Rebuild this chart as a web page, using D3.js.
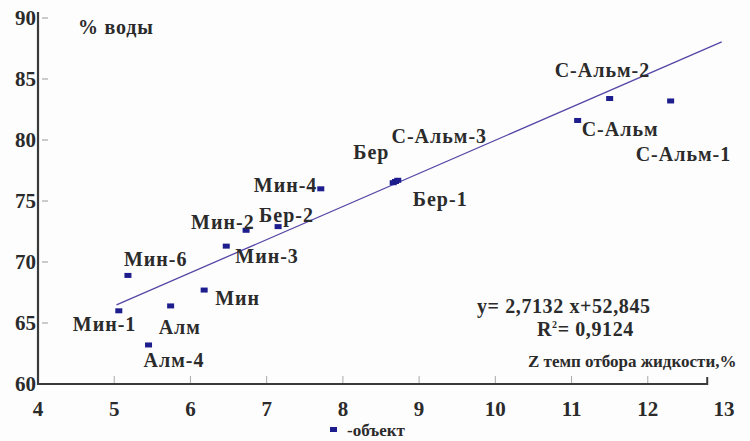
<!DOCTYPE html>
<html>
<head>
<meta charset="utf-8">
<script src="https://cdn.jsdelivr.net/npm/d3@7"></script>
<style>
  html, body { margin: 0; padding: 0; background: #fdfdfd; }
  svg { display: block; }
</style>
</head>
<body>
<svg id="chart" width="750" height="441"></svg>
<script>
// ---- data ----
const names = ["Мин-1","Мин-6","Алм-4","Алм","Мин","Мин-3","Мин-2","Бер-2","Мин-4","Бер","С-Альм-3","Бер-1","С-Альм","С-Альм-2","С-Альм-1"];
const zRate = [5.06, 5.18, 5.45, 5.74, 6.18, 6.47, 6.73, 7.15, 7.71, 8.66, 8.69, 8.72, 11.08, 11.5, 12.3];
const water = [66.0, 68.9, 63.2, 66.4, 67.7, 71.3, 72.6, 72.9, 76.0, 76.5, 76.6, 76.7, 81.6, 83.4, 83.2];
const xTicks = [4,5,6,7,8,9,10,11,12,13];
const yTicks = [60,65,70,75,80,85,90];
const slope = 2.7132, intercept = 52.845, r2 = "0,9124";
const trendRange = [5.03, 12.97];

// label layout offsets (px) relative to each point
const labelOffsets = [[-46,20],[-4,-9],[-5,22],[-12,28],[11,15],[9,17],[-55,-1],[-19,-5],[-67,3],[-40,-24],[-4,-38],[15,26],[4,16],[-55,-22],[-35,60]];

// ---- chart ----
const FONT = "'Liberation Serif', 'DejaVu Serif', serif";
const svg = d3.select("#chart");
const x = d3.scaleLinear().domain([4, 13]).range([38, 724]);
const y = d3.scaleLinear().domain([60, 90]).range([384, 18]);
const axisColor = "#3a3a3a";

function txt(sel) {
  return sel.attr("font-family", FONT).style("font-family", FONT)
    .attr("font-weight", "bold").attr("fill", "#2b2b2b");
}

// x ticks (inside, upward)
const gx = svg.append("g").attr("transform", "translate(0,384)");
gx.selectAll("line.tick").data(xTicks.slice(1, -1)).enter().append("line")
  .attr("x1", d => x(d)).attr("x2", d => x(d)).attr("y1", 0).attr("y2", -8)
  .attr("stroke", "#aaa").attr("stroke-width", 1);
txt(gx.selectAll("text").data(xTicks).enter().append("text"))
  .attr("x", d => x(d)).attr("y", 32).attr("text-anchor", "middle")
  .attr("font-size", 21).text(d => d);
// x axis line
const xEnd = x(12.78);
gx.append("path").attr("d", `M${x(4)},0H${xEnd}V-7`).attr("fill", "none")
  .attr("stroke", axisColor).attr("stroke-width", 2);

// y ticks
const gy = svg.append("g");
gy.selectAll("line").data(yTicks.slice(1)).enter().append("line")
  .attr("x1", x(4) + 4).attr("x2", x(4) + 10).attr("y1", d => y(d)).attr("y2", d => y(d))
  .attr("stroke", "#999").attr("stroke-width", 1);
txt(gy.selectAll("text").data(yTicks).enter().append("text"))
  .attr("x", x(4) - 2).attr("y", d => y(d) + 7).attr("text-anchor", "end")
  .attr("font-size", 21).text(d => d);
gy.append("line").attr("x1", x(4)).attr("x2", x(4)).attr("y1", 12).attr("y2", 385)
  .attr("stroke", axisColor).attr("stroke-width", 2.2);

// trend line
svg.append("line")
  .attr("x1", x(trendRange[0])).attr("y1", y(slope * trendRange[0] + intercept))
  .attr("x2", x(trendRange[1])).attr("y2", y(slope * trendRange[1] + intercept))
  .attr("stroke", "#5446a6").attr("stroke-width", 1.3);

// points
const pts = names.map((n, i) => ({ n, x: zRate[i], y: water[i], off: labelOffsets[i] }));
svg.selectAll("rect.pt").data(pts).enter().append("rect").attr("class", "pt")
  .attr("x", d => x(d.x) - 3.5).attr("y", d => y(d.y) - 2.5)
  .attr("width", 7).attr("height", 5).attr("fill", "#1d1d8e");

txt(svg.selectAll("text.lbl").data(pts).enter().append("text").attr("class", "lbl"))
  .attr("x", d => x(d.x) + d.off[0]).attr("y", d => y(d.y) + d.off[1])
  .attr("font-size", 20).attr("letter-spacing", 1).text(d => d.n);

// axis titles
txt(svg.append("text")).attr("x", 78).attr("y", 34).attr("font-size", 20).attr("letter-spacing", 0.8).text("% воды");
txt(svg.append("text")).attr("x", 528).attr("y", 367).attr("font-size", 17)
  .text("Z темп отбора жидкости,%");

// equation
txt(svg.append("text")).attr("x", 477).attr("y", 313).attr("font-size", 20).attr("letter-spacing", 0.6)
  .text(`y= ${String(slope).replace(".", ",")} x+${String(intercept).replace(".", ",")}`);
const r = txt(svg.append("text")).attr("x", 537).attr("y", 336).attr("font-size", 20).attr("letter-spacing", 0.6);
r.append("tspan").text("R");
r.append("tspan").attr("dy", -8).attr("font-size", 10).text("2");
r.append("tspan").attr("dy", 8).text("= " + r2);

// legend
svg.append("rect").attr("x", 330).attr("y", 427).attr("width", 7).attr("height", 5).attr("fill", "#1d1d8e");
txt(svg.append("text")).attr("x", 347).attr("y", 436).attr("font-size", 17).text("-объект");
</script>
</body>
</html>
